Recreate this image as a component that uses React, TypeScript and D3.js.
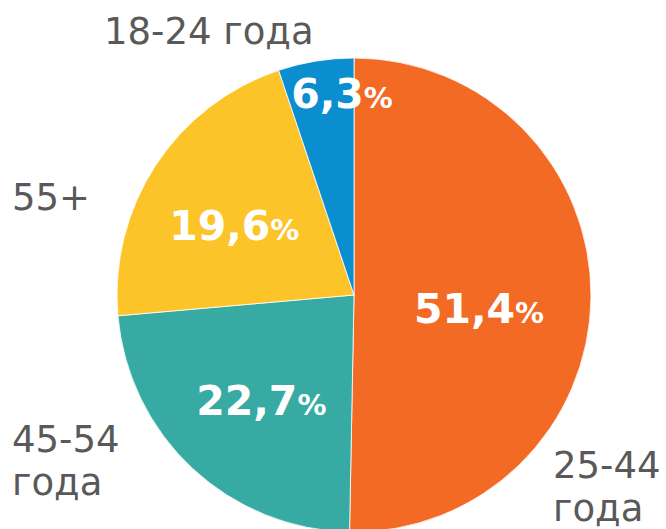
import React from "react";
import * as d3 from "d3";

// Data
const categories = ["25-44 года", "45-54 года", "55+", "18-24 года"];
const labelValues = ["51,4", "22,7", "19,6", "6,3"];
// slice shares as drawn in the picture
const shares = [50.3, 23.3, 21.25, 5.15];
const colors = ["#F26A24", "#36AAA3", "#FDC42A", "#0A8ED0"];

// Layout
const W = 666;
const H = 529;
const CX = 354;
const CY = 295;
const R = 237;
const labelRadius = 130;
const labelOffsets: [number, number][] = [
  [-5, 27],
  [-4, 25],
  [-11, 16],
  [9, -59],
];
const catPos: { x: number; y: number; lines: string[] }[] = [
  { x: 553, y: 478, lines: ["25-44", "года"] },
  { x: 12, y: 452, lines: ["45-54", "года"] },
  { x: 12, y: 210, lines: ["55+"] },
  { x: 104, y: 44, lines: ["18-24 года"] },
];

export default function App() {
  const pie = d3
    .pie<number>()
    .sort(null)
    .value((d) => d)
    .startAngle(0)
    .endAngle(2 * Math.PI);
  const arcs = pie(shares);
  const arc = d3.arc<d3.PieArcDatum<number>>().innerRadius(0).outerRadius(R);
  const labelArc = d3
    .arc<d3.PieArcDatum<number>>()
    .innerRadius(labelRadius)
    .outerRadius(labelRadius);

  return (
    <svg
      width={W}
      height={H}
      style={{ position: "absolute", left: 0, top: 0, background: "#fff" }}
      fontFamily="'DejaVu Sans', Verdana, sans-serif"
    >
      <g transform={`translate(${CX},${CY})`}>
        {arcs.map((a, i) => (
          <path
            key={i}
            d={arc(a) || ""}
            fill={colors[i]}
            stroke="#ffffff"
            strokeWidth={0.8}
          />
        ))}
        {arcs.map((a, i) => {
          const [x, y] = labelArc.centroid(a);
          return (
            <text
              key={"l" + i}
              x={x + labelOffsets[i][0]}
              y={y + labelOffsets[i][1]}
              textAnchor="middle"
              fill="#ffffff"
              fontWeight="bold"
              fontSize={41}
            >
              <tspan>{labelValues[i]}</tspan>
              <tspan fontSize={29}>%</tspan>
            </text>
          );
        })}
      </g>
      {catPos.map((c, i) => (
        <text
          key={"c" + i}
          x={c.x}
          y={c.y}
          fill="#595959"
          fontSize={37}
          aria-label={categories[i]}
        >
          {c.lines.map((l, j) => (
            <tspan key={j} x={c.x} dy={j === 0 ? 0 : 43}>
              {l}
            </tspan>
          ))}
        </text>
      ))}
    </svg>
  );
}
